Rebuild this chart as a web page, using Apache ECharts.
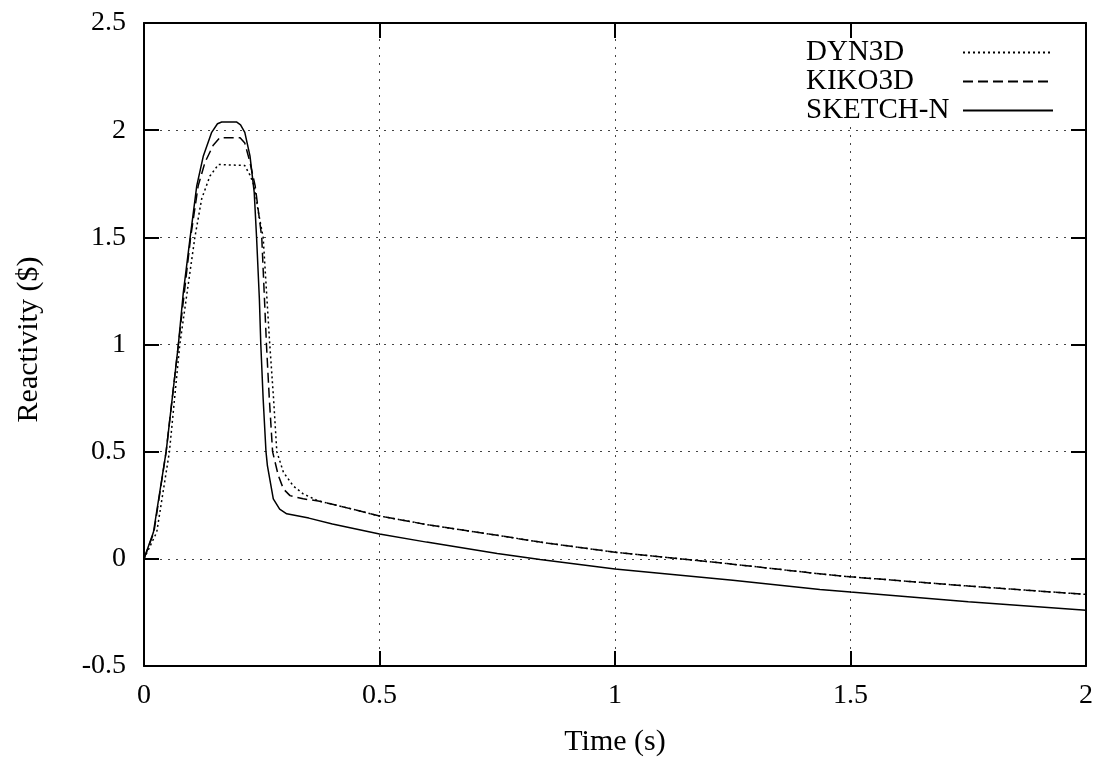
<!DOCTYPE html>
<html>
<head>
<meta charset="utf-8">
<script src="https://cdn.jsdelivr.net/npm/echarts@6/dist/echarts.min.js"></script>
<style>
  html, body { margin: 0; padding: 0; background: #fff; }
  #chart { width: 1101px; height: 758px; }
</style>
</head>
<body>
<div id="chart"></div>
<script>
// values
const dyn3dTime = [0, 0.027, 0.054, 0.076, 0.092, 0.108, 0.1225, 0.14, 0.158, 0.214, 0.225, 0.234, 0.243, 0.253, 0.26, 0.267, 0.275, 0.282, 0.296, 0.317, 0.338, 0.37, 0.4, 0.5, 0.6, 0.75, 0.841, 1.0, 1.25, 1.435, 1.5, 1.75, 2.0]
const dyn3dRho = [0, 0.124, 0.5, 1.0, 1.25, 1.5, 1.68, 1.786, 1.84, 1.835, 1.79, 1.74, 1.615, 1.5, 1.25, 1.0, 0.75, 0.5, 0.404, 0.34, 0.303, 0.27, 0.255, 0.2, 0.16, 0.11, 0.078, 0.031, -0.025, -0.07, -0.084, -0.127, -0.166]

const kiko3dTime = [0, 0.021, 0.047, 0.073, 0.086, 0.099, 0.115, 0.1295, 0.147, 0.161, 0.204, 0.214, 0.225, 0.236, 0.25, 0.255, 0.26, 0.266, 0.273, 0.285, 0.296, 0.31, 0.338, 0.37, 0.4, 0.5, 0.6, 0.75, 0.841, 1.0, 1.25, 1.435, 1.5, 1.75, 2.0]
const kiko3dRho = [0, 0.124, 0.5, 1.0, 1.25, 1.5, 1.74, 1.85, 1.93, 1.965, 1.965, 1.94, 1.85, 1.74, 1.5, 1.25, 1.0, 0.75, 0.5, 0.39, 0.326, 0.295, 0.28, 0.27, 0.255, 0.2, 0.16, 0.11, 0.078, 0.031, -0.025, -0.07, -0.084, -0.127, -0.166]

const sketchTime = [0, 0.02, 0.047, 0.073, 0.0835, 0.098, 0.112, 0.126, 0.1437, 0.156, 0.165, 0.197, 0.205, 0.214, 0.225, 0.234, 0.239, 0.245, 0.248, 0.253, 0.259, 0.262, 0.2745, 0.288, 0.303, 0.35, 0.4, 0.5, 0.6, 0.75, 0.841, 1.0, 1.25, 1.435, 1.5, 1.75, 2.0]
const sketchRho = [0, 0.124, 0.5, 1.0, 1.243, 1.5, 1.74, 1.88, 1.99, 2.03, 2.038, 2.038, 2.025, 1.99, 1.88, 1.71, 1.5, 1.21, 1.0, 0.746, 0.5, 0.435, 0.28, 0.232, 0.21, 0.19, 0.163, 0.116, 0.078, 0.025, -0.003, -0.047, -0.1, -0.143, -0.155, -0.2, -0.24]

const seriesNames = ['DYN3D', 'KIKO3D', 'SKETCH-N']
const xTicks = { min: 0, max: 2, interval: 0.5 }
const yTicks = { min: -0.5, max: 2.5, interval: 0.5 }

const font = 'Liberation Serif'

function pairs(t, r) {
  return t.map((x, i) => [x, r[i]])
}

const chart = echarts.init(document.getElementById('chart'))

const frameAxis = {
  axisLine: { show: true, onZero: false, lineStyle: { color: '#000', width: 2 } },
  axisTick: { show: true, inside: true, length: 15, lineStyle: { color: '#000', width: 2 } }
}

chart.setOption({
  animation: false,
  backgroundColor: '#fff',
  grid: { left: 144, right: 15, top: 23, bottom: 92, containLabel: false, outerBoundsMode: 'none' },
  legend: {
    data: seriesNames,
    orient: 'vertical',
    align: 'right',
    right: 42,
    top: 36,
    itemWidth: 90,
    itemHeight: 14,
    itemGap: 0,
    padding: [2, 5, 0, 5],
    backgroundColor: '#fff',
    selectedMode: false,
    itemStyle: { opacity: 0 },
    formatter: name => '{a|' + name + '}',
    textStyle: {
      rich: {
        a: { fontFamily: font, fontSize: 29, color: '#000', width: 152, align: 'left', lineHeight: 25 }
      }
    }
  },
  xAxis: [
    Object.assign({
      type: 'value',
      position: 'bottom',
      min: xTicks.min, max: xTicks.max, interval: xTicks.interval,
      name: 'Time (s)',
      nameLocation: 'middle',
      nameGap: 61,
      nameTextStyle: { fontFamily: font, fontSize: 30, color: '#000' },
      axisLabel: { fontFamily: font, fontSize: 28, color: '#000', margin: 16 },
      splitLine: { show: true, lineStyle: { color: '#444', width: 1, type: [2, 6] } }
    }, frameAxis),
    Object.assign({
      type: 'value',
      position: 'top',
      z: 10,
      min: xTicks.min, max: xTicks.max, interval: xTicks.interval,
      axisLabel: { show: false },
      splitLine: { show: false }
    }, frameAxis)
  ],
  yAxis: [
    Object.assign({
      type: 'value',
      position: 'left',
      min: yTicks.min, max: yTicks.max, interval: yTicks.interval,
      name: 'Reactivity ($)',
      nameLocation: 'middle',
      nameGap: 100,
      nameTextStyle: { fontFamily: font, fontSize: 30, color: '#000', padding: [0, 0, 0, 10] },
      axisLabel: { fontFamily: font, fontSize: 28, color: '#000', margin: 18 },
      splitLine: { show: true, lineStyle: { color: '#444', width: 1, type: [2, 6] } }
    }, frameAxis),
    Object.assign({
      type: 'value',
      position: 'right',
      z: 10,
      min: yTicks.min, max: yTicks.max, interval: yTicks.interval,
      axisLabel: { show: false },
      splitLine: { show: false }
    }, frameAxis)
  ],
  series: [
    {
      name: seriesNames[0],
      type: 'line',
      symbol: 'none',
      data: pairs(dyn3dTime, dyn3dRho),
      lineStyle: { color: '#000', width: 1.5, type: [2, 3] },
      itemStyle: { color: '#000' }
    },
    {
      name: seriesNames[1],
      type: 'line',
      symbol: 'none',
      data: pairs(kiko3dTime, kiko3dRho),
      lineStyle: { color: '#000', width: 1.5, type: [10, 5] },
      itemStyle: { color: '#000' }
    },
    {
      name: seriesNames[2],
      type: 'line',
      symbol: 'none',
      data: pairs(sketchTime, sketchRho),
      lineStyle: { color: '#000', width: 1.5 },
      itemStyle: { color: '#000' }
    }
  ]
})
</script>
</body>
</html>
